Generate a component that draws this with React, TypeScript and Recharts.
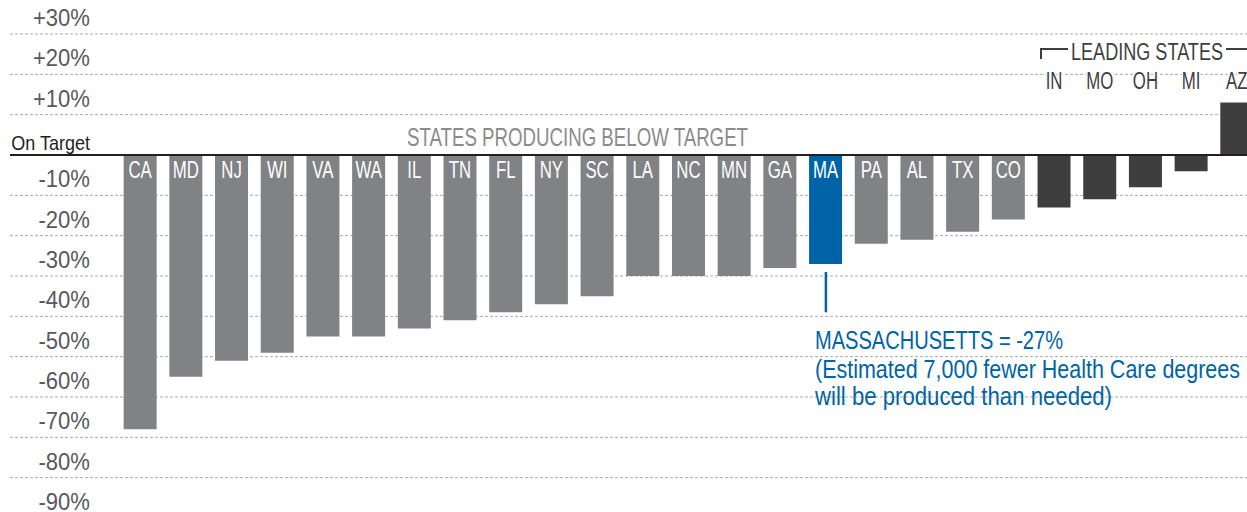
import React from "react";
import {
  BarChart,
  Bar,
  XAxis,
  YAxis,
  CartesianGrid,
  ReferenceLine,
  LabelList,
  Cell,
} from "recharts";

const states = [
  "CA", "MD", "NJ", "WI", "VA", "WA", "IL", "TN", "FL", "NY", "SC", "LA", "NC",
  "MN", "GA", "MA", "PA", "AL", "TX", "CO", "IN", "MO", "OH", "MI", "AZ",
];
const gapToTarget = [
  -68, -55, -51, -49, -45, -45, -43, -41, -39, -37, -35, -30, -30, -30, -28,
  -27, -22, -21, -19, -16, -13, -11, -8, -4, 13,
];
const leadingStates = ["IN", "MO", "OH", "MI", "AZ"];
const highlightState = "MA";
const yTicks = [30, 20, 10, 0, -10, -20, -30, -40, -50, -60, -70, -80, -90];
const yTickLabels = [
  "+30%", "+20%", "+10%", "On Target", "-10%", "-20%", "-30%", "-40%",
  "-50%", "-60%", "-70%", "-80%", "-90%",
];

const FONT = "'Liberation Sans', Arial, sans-serif";
const GRAY = "#808285";
const DARK = "#3e3e3f";
const BLUE = "#0063a6";

const data = states.map((state, i) => ({ state, value: gapToTarget[i] }));

// tick text sits just above its gridline, right-aligned at x=90
const renderYTick = (props: any) => {
  const { y, payload } = props;
  const label = yTickLabels[yTicks.indexOf(payload.value)];
  if (payload.value === 0) {
    return (
      <text
        transform={`translate(90,${y - 5}) scale(0.9,1)`}
        textAnchor="end"
        fontSize={20}
        fill="#231f20"
        fontFamily={FONT}
      >
        {label}
      </text>
    );
  }
  return (
    <text
      transform={`translate(90,${y - 8}) scale(0.92,1)`}
      textAnchor="end"
      fontSize={24}
      fill="#58595b"
      fontFamily={FONT}
    >
      {label}
    </text>
  );
};

// state code: white inside the bar, or dark above for the leading group
const BarTag = (props: any) => {
  const vb = props.viewBox ?? props;
  const { x, y, width, height } = vb;
  const value = props.value;
  const cx = x + width / 2;
  const leading = leadingStates.includes(value);
  const top = Math.min(y, y + height);
  const ty = leading ? 89 : top + 23;
  return (
    <text
      transform={`translate(${cx},${ty}) scale(0.73,1)`}
      textAnchor="middle"
      fontSize={23}
      fontFamily={FONT}
      fill={leading ? DARK : "#ffffff"}
      stroke={leading ? "#ffffff" : "none"}
      strokeWidth={leading ? 4 : 0}
      paintOrder="stroke"
    >
      {value}
    </text>
  );
};

export default function App() {
  return (
    <div
      style={{
        position: "absolute",
        left: 0,
        top: 0,
        width: 1247,
        height: 512,
        overflow: "hidden",
        background: "#fff",
      }}
    >
      <BarChart
        width={1270}
        height={540}
        data={data}
        margin={{ top: 34, right: 10, bottom: 22, left: 9 }}
        barSize={33}
      >
        <CartesianGrid vertical={false} strokeDasharray="3 2" stroke="#a7a9ac" />
        <XAxis dataKey="state" type="category" hide padding={{ left: 107.65, right: 0 }} />
        <YAxis
          type="number"
          domain={[-90, 30]}
          ticks={yTicks}
          interval={0}
          width={1}
          axisLine={false}
          tickLine={false}
          tick={renderYTick}
        />
        <ReferenceLine y={0} stroke="#231f20" strokeWidth={2} />
        <Bar dataKey="value" isAnimationActive={false}>
          {data.map((d) => (
            <Cell
              key={d.state}
              fill={
                d.state === highlightState
                  ? BLUE
                  : leadingStates.includes(d.state)
                  ? DARK
                  : GRAY
              }
            />
          ))}
          <LabelList dataKey="state" content={<BarTag />} />
        </Bar>
        <ReferenceLine
          segment={[
            { x: highlightState, y: -29 },
            { x: highlightState, y: -39 },
          ]}
          stroke={BLUE}
          strokeWidth={2.5}
        />
      </BarChart>

      {/* titles and annotation */}
      <svg
        width={1247}
        height={512}
        style={{ position: "absolute", left: 0, top: 0, pointerEvents: "none" }}
        fontFamily={FONT}
      >
        <text x={407} y={146} fontSize={26} fill="#8a8b8d" textLength={341} lengthAdjust="spacingAndGlyphs">
          STATES PRODUCING BELOW TARGET
        </text>

        <path d="M1041 59 V49 H1068" fill="none" stroke={DARK} strokeWidth={2} />
        <path d="M1226 49 H1247" fill="none" stroke={DARK} strokeWidth={2} />
        <text x={1071} y={60} fontSize={23} fill={DARK} textLength={152} lengthAdjust="spacingAndGlyphs">
          LEADING STATES
        </text>

        <text x={815} y={349} fontSize={25} fill={BLUE} textLength={248} lengthAdjust="spacingAndGlyphs">
          MASSACHUSETTS = -27%
        </text>
        <text x={815} y={378} fontSize={25} fill={BLUE} textLength={425} lengthAdjust="spacingAndGlyphs">
          (Estimated 7,000 fewer Health Care degrees
        </text>
        <text x={815} y={405} fontSize={25} fill={BLUE} textLength={297} lengthAdjust="spacingAndGlyphs">
          will be produced than needed)
        </text>
      </svg>
    </div>
  );
}
